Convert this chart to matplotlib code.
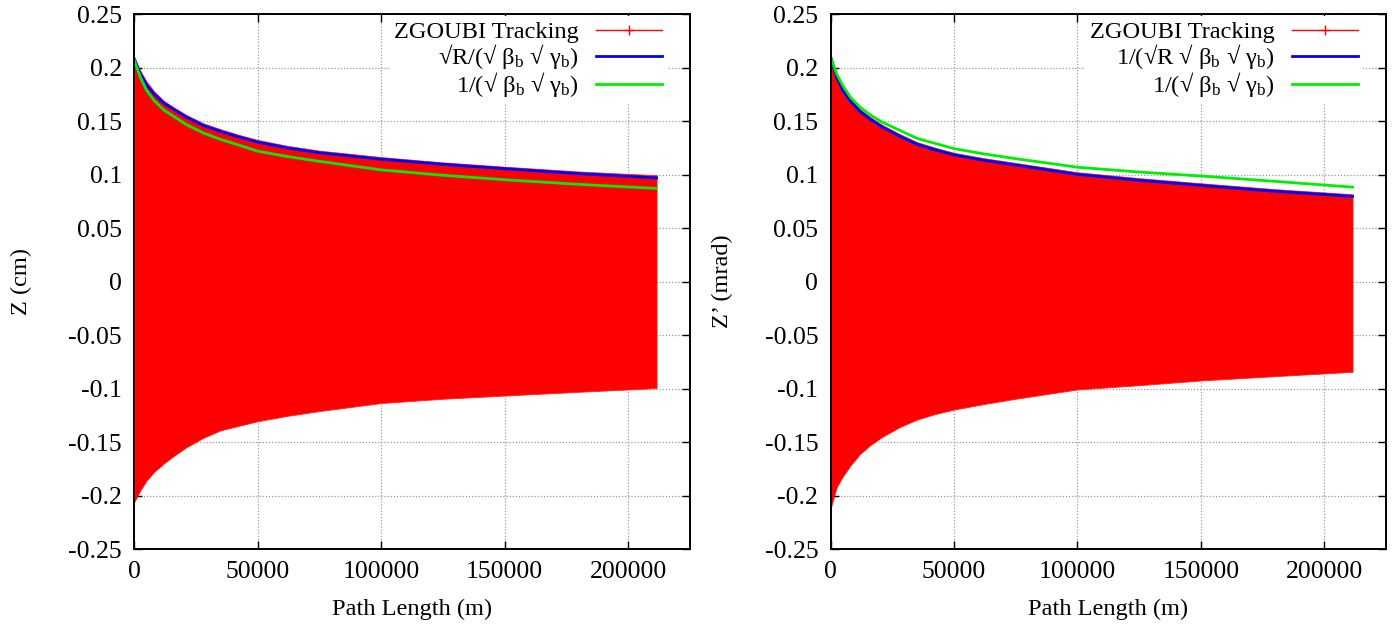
import matplotlib
matplotlib.use("Agg")
import matplotlib.pyplot as plt
from matplotlib.lines import Line2D

plt.rcParams['font.family'] = ['Liberation Serif', 'DejaVu Serif']
plt.rcParams['mathtext.fontset'] = 'custom'
plt.rcParams['mathtext.rm'] = 'Liberation Serif'
plt.rcParams['mathtext.it'] = 'Liberation Serif:italic'
plt.rcParams['axes.unicode_minus'] = False

# Path length samples (m)
path_length = [0, 2500, 5000, 8000, 12000, 16000, 21000, 28000, 35000, 42000,
               50000, 62000, 75000, 100000, 125000, 150000, 180000, 211500]

# Vertical position Z (cm)
z_track_upper = [0.210, 0.197, 0.187, 0.178, 0.169, 0.163, 0.156, 0.148, 0.1425,
                 0.1375, 0.1325, 0.127, 0.1225, 0.1165, 0.1115, 0.1075, 0.103, 0.0995]
z_track_lower = [-0.206, -0.195, -0.186, -0.178, -0.170, -0.163, -0.155, -0.146, -0.139,
                 -0.135, -0.1305, -0.1255, -0.121, -0.1135, -0.1095, -0.1065, -0.103, -0.0995]
z_sqrtR = [0.208, 0.194, 0.184, 0.1755, 0.167, 0.161, 0.154, 0.146, 0.1405, 0.1355,
           0.1305, 0.125, 0.1205, 0.1145, 0.1097, 0.1056, 0.101, 0.097]
z_adiab = [0.207, 0.191, 0.179, 0.1695, 0.1605, 0.1545, 0.147, 0.139, 0.133, 0.128,
           0.122, 0.117, 0.1125, 0.1045, 0.0995, 0.0953, 0.091, 0.0872]

# Vertical angle Z' (mrad)
zp_track_upper = [0.212, 0.193, 0.181, 0.171, 0.161, 0.154, 0.1465, 0.138, 0.1305,
                  0.1255, 0.1205, 0.1155, 0.111, 0.1023, 0.0968, 0.092, 0.0865, 0.0817]
zp_track_lower = [-0.212, -0.192, -0.182, -0.172, -0.161, -0.153, -0.145, -0.136, -0.129,
                  -0.124, -0.1196, -0.1145, -0.1095, -0.1008, -0.0968, -0.0924, -0.0884, -0.0843]
zp_sqrtR = [0.210, 0.191, 0.179, 0.169, 0.159, 0.152, 0.1445, 0.136, 0.1285, 0.1235,
            0.1185, 0.1135, 0.109, 0.1003, 0.0948, 0.090, 0.0845, 0.0797]
zp_adiab = [0.210, 0.194, 0.183, 0.1725, 0.163, 0.156, 0.149, 0.1415, 0.134, 0.1295,
            0.1244, 0.1195, 0.115, 0.107, 0.1025, 0.0988, 0.0938, 0.0884]

x_ticks = [0, 50000, 100000, 150000, 200000]
y_ticks = [-0.25, -0.2, -0.15, -0.1, -0.05, 0, 0.05, 0.1, 0.15, 0.2, 0.25]
y_tick_labels = ['-0.25', '-0.2', '-0.15', '-0.1', '-0.05', '0',
                 '0.05', '0.1', '0.15', '0.2', '0.25']

label_track = 'ZGOUBI Tracking'
label_adiab = r'1/(√ β$_\mathrm{b}$ √ γ$_\mathrm{b}$)'
labels_blue = [r'√R/(√ β$_\mathrm{b}$ √ γ$_\mathrm{b}$)',
               r'1/(√R √ β$_\mathrm{b}$ √ γ$_\mathrm{b}$)']

FS_TICK = 18.5
FS = 17.6
fig = plt.figure(figsize=(13.93, 6.25), dpi=100)
ax_left = fig.add_axes([0.0964, 0.1216, 0.3989, 0.8555])
ax_right = fig.add_axes([0.5963, 0.1216, 0.3986, 0.8555])

panels = [
    (ax_left, z_track_upper, z_track_lower, z_sqrtR, z_adiab, labels_blue[0], 'Z (cm)', 26),
    (ax_right, zp_track_upper, zp_track_lower, zp_sqrtR, zp_adiab, labels_blue[1], 'Z’ (mrad)', 23),
]

for ax, up, lo, blue, green, lab_blue, ylab, ypad in panels:
    ax.fill_between(path_length, lo, up, color='#ff0000', lw=0.6, edgecolor='#ff2020', zorder=2)
    h_blue, = ax.plot(path_length, blue, color='#0000ff', lw=2.0, zorder=3)
    h_green, = ax.plot(path_length, green, color='#00ee00', lw=2.0, zorder=3)
    h_track = Line2D([], [], color='#ff0000', lw=1.0, marker='+', markersize=7)

    ax.set_xlim(0, 225000)
    ax.set_ylim(-0.25, 0.25)
    ax.set_xticks(x_ticks)
    ax.set_xticklabels([str(t) for t in x_ticks])
    ax.set_yticks(y_ticks)
    ax.set_yticklabels(y_tick_labels)
    ax.tick_params(direction='in', length=6, width=1, top=True, right=True,
                   labelsize=FS_TICK)
    ax.tick_params(axis='y', pad=9)
    ax.tick_params(axis='x', pad=9)
    ax.grid(True, color='#9a9a9a', lw=0.9, linestyle=(0, (1, 1.5)), zorder=1)
    ax.set_axisbelow(True)
    for sp in ax.spines.values():
        sp.set_linewidth(1.4)
        sp.set_zorder(5)

    ax.set_xlabel('Path Length (m)', fontsize=FS, labelpad=11)
    ax.set_ylabel(ylab, fontsize=FS, labelpad=ypad)

    leg = ax.legend([h_track, h_blue, h_green], [label_track, lab_blue, label_adiab],
                    loc='upper right', bbox_to_anchor=(0.958, 0.996), markerfirst=False,
                    fontsize=FS, frameon=True, framealpha=1.0, facecolor='white',
                    edgecolor='none', fancybox=False, handlelength=2.7,
                    handletextpad=0.7, labelspacing=-0.04, borderpad=0.2,
                    borderaxespad=0.0)
    leg.set_zorder(6)

fig.savefig('out.png', dpi=100)
